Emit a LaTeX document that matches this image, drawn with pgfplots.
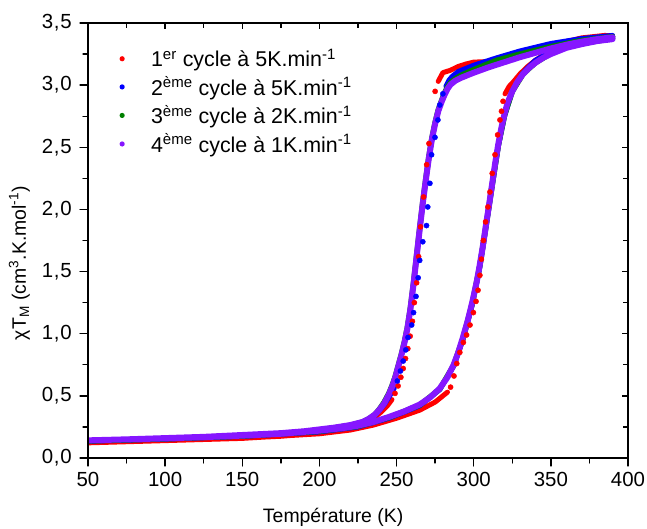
\documentclass[border=0pt]{standalone}
\usepackage{pgfplots}
\pgfplotsset{compat=1.18}
\usepackage{pgfplotstable}
\usepackage{fontspec}
\setmainfont{Liberation Sans}
\definecolor{cpurple}{RGB}{134,22,255}
\definecolor{cgreen}{RGB}{0,128,0}
\definecolor{cblue}{RGB}{0,0,255}
\definecolor{cred}{RGB}{255,0,0}

\pgfplotstableread{
T v
390 3.385
380 3.37
370 3.35
360 3.325
350 3.295
340 3.26
330 3.225
320 3.185
310 3.145
300 3.10
292 3.06
288 3.035
285 3.005
283 2.97
281 2.92
279 2.86
277 2.79
275 2.69
273 2.57
271 2.42
269 2.24
267 2.05
265 1.84
263 1.62
261 1.40
259 1.20
257 1.04
255 0.92
253 0.82
251 0.73
249 0.64
247 0.57
245 0.51
242 0.44
239 0.39
236 0.35
232 0.315
228 0.29
220 0.265
210 0.245
200 0.23
190 0.215
175 0.20
150 0.185
125 0.17
100 0.16
75 0.15
50 0.142
75 0.15
100 0.158
125 0.168
150 0.18
175 0.195
200 0.22
215 0.24
225 0.26
235 0.29
245 0.33
255 0.375
265 0.43
272 0.49
278 0.56
283 0.65
287 0.75
290 0.85
293 0.97
296 1.10
299 1.25
302 1.42
304 1.56
306 1.71
308 1.88
310 2.04
312 2.21
314 2.38
316 2.53
318 2.66
320 2.77
322 2.86
325 2.95
328 3.02
332 3.09
336 3.14
340 3.18
345 3.22
350 3.25
360 3.30
370 3.33
380 3.355
390 3.37
}\purple

\pgfplotstableread{
T v
390 3.39
370 3.36
350 3.31
330 3.25
315 3.20
300 3.125
292 3.08
288 3.05
285 3.02
283 2.985
281 2.935
279 2.87
277 2.80
275 2.70
273 2.58
271 2.43
269 2.25
267 2.06
265 1.85
263 1.63
261 1.41
259 1.21
257 1.05
255 0.93
253 0.83
251 0.74
249 0.65
247 0.58
245 0.52
242 0.45
239 0.395
236 0.35
232 0.315
228 0.29
220 0.262
200 0.225
175 0.195
150 0.18
100 0.155
50 0.138
100 0.155
150 0.177
200 0.215
225 0.255
245 0.325
265 0.425
278 0.555
287 0.745
293 0.96
299 1.24
304 1.55
308 1.87
312 2.20
316 2.52
320 2.76
325 2.95
332 3.09
340 3.18
350 3.255
360 3.305
375 3.345
390 3.375
}\green

\pgfplotstableread{
T v
390 3.40
370 3.375
350 3.335
330 3.275
315 3.22
300 3.16
290 3.11
286 3.07
284 3.04
282 2.99
nan nan
248.5 0.56
245 0.49
242 0.43
239 0.385
236 0.345
232 0.31
228 0.285
220 0.258
200 0.222
175 0.192
150 0.176
100 0.152
50 0.135
100 0.152
150 0.174
200 0.21
225 0.25
245 0.32
265 0.42
278 0.55
287 0.74
293 0.955
299 1.23
304 1.54
308 1.86
312 2.19
316 2.51
320 2.75
325 2.95
332 3.10
340 3.20
350 3.27
360 3.32
375 3.36
390 3.39
}\blue

\pgfplotstableread{
T v
280 2.93
278 2.84
276.8 2.72
274.9 2.58
272.7 2.44
271.6 2.21
270.2 2.02
269.4 1.87
267 1.74
265 1.59
264 1.45
262.6 1.30
261 1.17
259.8 1.07
257.4 0.97
256 0.87
254.3 0.78
252.5 0.70
250.5 0.62
}\bluemarks

\pgfplotstableread{
T v
390 3.385
370 3.36
350 3.32
330 3.255
310 3.19
300 3.185
295 3.17
290 3.15
285 3.12
280 3.10
277 3.03
nan nan
247 0.47
244 0.42
240 0.37
236 0.33
232 0.295
228 0.27
220 0.24
200 0.20
175 0.175
150 0.16
100 0.14
50 0.122
100 0.14
150 0.158
200 0.195
220 0.225
235 0.265
250 0.32
265 0.385
275 0.45
283 0.53
nan nan
320.3 2.93
323 2.99
326 3.03
330 3.09
335 3.15
340 3.20
350 3.28
360 3.35
370 3.38
385 3.40
390 3.395
}\red

\pgfplotstableread{
T v
275 2.95
271 2.53
269.5 2.36
267.5 2.10
265.5 1.86
264.3 1.62
263 1.41
261.5 1.25
260.3 1.10
258.8 0.98
257.3 0.88
255.8 0.80
254.3 0.72
252.8 0.65
251 0.58
249 0.52
285 0.57
287.2 0.66
289 0.76
291 0.85
293.3 0.93
295.4 0.99
297.6 1.07
299.8 1.17
301.5 1.26
302.8 1.35
304 1.47
305 1.60
306.3 1.75
307.7 1.90
309.2 2.02
310.5 2.14
312 2.29
313.8 2.44
315.5 2.60
317 2.72
318 2.79
319 2.87
}\redmarks

\begin{document}
\begin{tikzpicture}
\useasboundingbox (-88bp,-71bp) rectangle (559bp,458bp);
\begin{axis}[
  at={(0,0)}, anchor=south west,
  scale only axis, width=540bp, height=435bp,
  xmin=50, xmax=400, ymin=0, ymax=3.5,
  xtick={50,100,...,400}, minor xtick={75,125,...,375},
  ytick={0,0.5,...,3.5}, minor ytick={0.25,0.75,...,3.25},
  xtick pos=bottom, ytick pos=left, tick align=outside,
  major tick length=8bp, minor tick length=5bp,
  every tick/.style={black, line width=1.3bp},
  axis line style={line width=1.5bp},
  /pgf/number format/assume math mode=true,
  tick label style={font=\fontsize{20.5}{24}\selectfont},
  yticklabel style={/pgf/number format/use comma, /pgf/number format/fixed, /pgf/number format/fixed zerofill, /pgf/number format/precision=1, /pgf/number format/set decimal separator={\kern0.04em,\kern0.04em}, inner sep=2bp, xshift=-6bp},
  xticklabel style={/pgf/number format/fixed, /pgf/number format/precision=0, inner sep=2bp, yshift=-4bp},
  xlabel={Température (K)},
  ylabel={χT\textsubscript{M} (cm\textsuperscript{3}.K.mol\textsuperscript{-1})},
  every axis x label/.style={at={(axis description cs:0.454,-0.137)}, anchor=center, font=\fontsize{19.5}{24}\selectfont},
  every axis y label/.style={at={(axis description cs:-0.127,0.448)}, anchor=center, rotate=90, font=\fontsize{19.5}{24}\selectfont},
  unbounded coords=jump,
  legend style={draw=none, fill=none, at={(rel axis cs:0.055,0.945)}, anchor=north west,
    font=\fontsize{21.5}{25}\selectfont, row sep=4.5bp, inner sep=0pt},
  legend cell align=left,
  legend image code/.code={\path[draw=none,fill=none] (0cm,0cm) -- (1.1cm,0cm); \fill[#1,draw=none] (0.15cm,0cm) circle (2.6bp);},
  line join=round, line cap=round,
]
\addlegendimage{cred}
\addlegendentry{1\textsuperscript{er} cycle à 5K.min\textsuperscript{-1}}
\addlegendimage{cblue}
\addlegendentry{2\textsuperscript{ème} cycle à 5K.min\textsuperscript{-1}}
\addlegendimage{cgreen}
\addlegendentry{3\textsuperscript{ème} cycle à 2K.min\textsuperscript{-1}}
\addlegendimage{cpurple}
\addlegendentry{4\textsuperscript{ème} cycle à 1K.min\textsuperscript{-1}}
\addplot[forget plot, cred, line width=5bp] table[x=T,y=v] {\red};
\addplot[forget plot, cred, only marks, mark=*, mark size=2.6bp] table[x=T,y=v] {\redmarks};
\addplot[forget plot, cblue, line width=5bp] table[x=T,y=v] {\blue};
\addplot[forget plot, cblue, only marks, mark=*, mark size=2.6bp] table[x=T,y=v] {\bluemarks};
\addplot[forget plot, cgreen, line width=5.5bp] table[x=T,y=v] {\green};
\addplot[forget plot, cpurple, line width=6bp] table[x=T,y=v] {\purple};
\end{axis}
\begin{axis}[
  at={(0,0)}, anchor=south west,
  scale only axis, width=540bp, height=435bp,
  xmin=50, xmax=400, ymin=0, ymax=3.5,
  xtick={50,100,...,400}, minor xtick={75,125,...,375},
  ytick={0,0.5,...,3.5}, minor ytick={0.25,0.75,...,3.25},
  xtick pos=top, ytick pos=right, tick align=inside,
  major tick length=6bp, minor tick length=5bp,
  every tick/.style={black, line width=1.3bp},
  axis line style={line width=1.5bp},
  xticklabels={}, yticklabels={},
]
\end{axis}
\end{tikzpicture}
\end{document}
